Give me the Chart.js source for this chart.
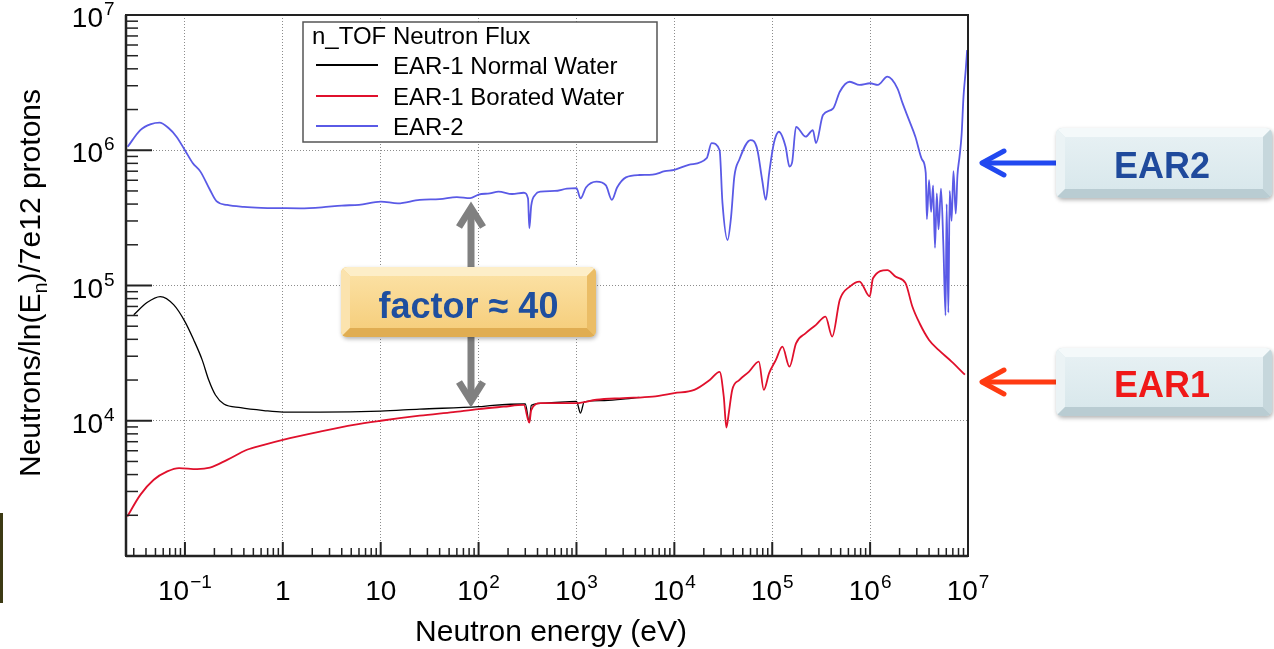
<!DOCTYPE html>
<html>
<head>
<meta charset="utf-8">
<title>n_TOF Neutron Flux</title>
<script src="https://cdn.jsdelivr.net/npm/chart.js@4.4.1/dist/chart.umd.min.js"></script>
<style>
  html, body { margin: 0; padding: 0; background: #fff; }
  #wrap { position: relative; width: 1274px; height: 649px; }
</style>
</head>
<body>
<div id="wrap"><canvas id="flux" width="1274" height="649"></canvas></div>
<script>
// Energies in eV, flux in neutrons / ln(E_n) / 7e12 protons
const ear1WaterE = [0.03, 0.041, 0.056, 0.077, 0.1, 0.123, 0.15, 0.175, 0.205, 0.25, 0.37, 0.64, 1, 2.4, 10, 25, 100, 140, 300, 330, 345, 480, 1000, 1100, 1200, 1800, 2800, 4400];
const ear1WaterFlux = [6.07e4, 7.48e4, 8.28e4, 7.19e4, 5.41e4, 3.96e4, 2.82e4, 2.0e4, 1.55e4, 1.33e4, 1.25e4, 1.19e4, 1.16e4, 1.16e4, 1.18e4, 1.22e4, 1.27e4, 1.3e4, 1.33e4, 9.7e3, 1.3e4, 1.35e4, 1.39e4, 1.14e4, 1.38e4, 1.41e4, 1.44e4, 1.49e4];

const ear1BoratedE = [0.0258, 0.035, 0.048, 0.066, 0.087, 0.133, 0.18, 0.27, 0.43, 0.64, 1, 2.4, 5.3, 10, 25, 55, 100, 180, 290, 330, 345, 430, 1000, 1600, 3000, 6000, 1e4, 1.6e4, 2.3e4, 2.9e4, 3.2e4, 3.4e4, 3.6e4, 3.9e4, 4.6e4, 5.8e4, 7.3e4, 8.2e4, 9.3e4, 1.09e5, 1.27e5, 1.5e5, 1.75e5, 2.2e5, 2.8e5, 3.5e5, 4.1e5, 4.9e5, 6.2e5, 7.8e5, 9.9e5, 1.07e6, 1.5e6, 1.83e6, 2.3e6, 2.7e6, 3.2e6, 4.0e6, 5.0e6, 6.8e6, 9.3e6];
const ear1BoratedFlux = [1.96e3, 2.83e3, 3.66e3, 4.22e3, 4.47e3, 4.39e3, 4.5e3, 5.14e3, 6.1e3, 6.64e3, 7.23e3, 8.32e3, 9.33e3, 1.0e4, 1.09e4, 1.16e4, 1.22e4, 1.27e4, 1.31e4, 9.7e3, 1.2e4, 1.35e4, 1.35e4, 1.43e4, 1.47e4, 1.51e4, 1.6e4, 1.69e4, 2.0e4, 2.3e4, 1.5e4, 8.9e3, 1.14e4, 1.69e4, 2.0e4, 2.31e4, 2.74e4, 1.69e4, 2.25e4, 2.82e4, 3.53e4, 2.51e4, 3.74e4, 4.44e4, 5.12e4, 5.89e4, 4.19e4, 7.84e4, 9.82e4, 1.07e5, 8.3e4, 1.13e5, 1.3e5, 1.16e5, 1.04e5, 6.99e4, 5.26e4, 3.96e4, 3.34e4, 2.74e4, 2.19e4];

const ear2E = [0.026, 0.035, 0.045, 0.055, 0.068, 0.082, 0.1, 0.12, 0.144, 0.18, 0.21, 0.27, 0.4, 0.6, 1, 1.5, 2.5, 4, 6, 10, 15, 25, 40, 60, 82, 100, 130, 160, 220, 290, 320, 330, 345, 380, 430, 600, 800, 1000, 1100, 1250, 1600, 2000, 2300, 2600, 3200, 4400, 6000, 8000, 1e4, 1.4e4, 2.14e4, 2.4e4, 2.9e4, 3.1e4, 3.5e4, 3.8e4, 4.1e4, 4.6e4, 6e4, 7e4, 7.9e4, 8.6e4, 9.3e4, 1.04e5, 1.17e5, 1.37e5, 1.5e5, 1.6e5, 1.75e5, 2.2e5, 2.6e5, 2.8e5, 3.3e5, 4.2e5, 4.9e5, 6.2e5, 7.8e5, 1e6, 1.2e6, 1.5e6, 1.9e6, 2.15e6, 2.5e6, 2.9e6, 3.4e6, 3.7e6, 3.8e6, 4.0e6, 4.2e6, 4.4e6, 4.6e6, 4.8e6, 5.0e6, 5.3e6, 5.6e6, 5.9e6, 6.05e6, 6.3e6, 6.5e6, 6.8e6, 7.1e6, 7.5e6, 7.8e6, 8.2e6, 8.6e6, 9.0e6, 9.5e6, 9.8e6];
const ear2Flux = [1.06e6, 1.41e6, 1.56e6, 1.6e6, 1.46e6, 1.26e6, 1.0e6, 8.05e5, 6.95e5, 5.1e5, 4.2e5, 3.94e5, 3.81e5, 3.75e5, 3.73e5, 3.72e5, 3.78e5, 3.9e5, 3.95e5, 4.17e5, 4.05e5, 4.3e5, 4.35e5, 4.5e5, 4.42e5, 4.7e5, 4.8e5, 4.95e5, 4.75e5, 4.85e5, 4.4e5, 2.65e5, 3.9e5, 4.7e5, 4.95e5, 5.0e5, 5.2e5, 5.24e5, 4.4e5, 5.3e5, 5.86e5, 5.5e5, 4.3e5, 5.3e5, 6.3e5, 6.56e5, 6.6e5, 7.0e5, 7.15e5, 7.8e5, 8.73e5, 1.13e6, 1.0e6, 4.1e5, 2.17e5, 3.23e5, 6.38e5, 8.5e5, 1.19e6, 1.03e6, 6.0e5, 4.3e5, 6.76e5, 1.13e6, 1.37e6, 1.06e6, 7.57e5, 8.2e5, 1.49e6, 1.26e6, 1.41e6, 1.13e6, 1.82e6, 2.04e6, 2.71e6, 3.21e6, 3.04e6, 3.13e6, 3.04e6, 3.5e6, 2.87e6, 2.22e6, 1.67e6, 1.26e6, 8.5e5, 6.8e5, 3.1e5, 6.0e5, 3.5e5, 5.5e5, 1.9e5, 4.8e5, 2.6e5, 5.2e5, 2.0e5, 6.0e4, 4.0e5, 6.3e4, 5.0e5, 3.0e5, 7.0e5, 3.4e5, 6.5e5, 9.0e5, 1.3e6, 2.5e6, 4.0e6, 5.5e6];

// decade ticks: value, base text, exponent text
const xTickValues = [0.1, 1, 10, 100, 1e3, 1e4, 1e5, 1e6, 1e7];
const xTickLabels = [['10', '\u22121'], ['1', ''], ['10', ''], ['10', '2'], ['10', '3'], ['10', '4'], ['10', '5'], ['10', '6'], ['10', '7']];
const yTickValues = [1e4, 1e5, 1e6, 1e7];
const yTickLabels = [['10', '4'], ['10', '5'], ['10', '6'], ['10', '7']];

const seriesNames = ['EAR-1 Normal Water', 'EAR-1 Borated Water', 'EAR-2'];
const seriesColors = ['#000000', '#e0102c', '#5a5ae6'];

const FONT = '"Liberation Sans", Arial, Helvetica, sans-serif';

function toPoints(es, fs) {
    return es.map((e, i) => ({ x: e, y: fs[i] }));
}

function line(ctx, x1, y1, x2, y2) {
    ctx.beginPath();
    ctx.moveTo(x1, y1);
    ctx.lineTo(x2, y2);
    ctx.stroke();
}

// "10" with a raised exponent
function powLabel(ctx, base, exp, x, yb, align) {
    ctx.font = '28px ' + FONT;
    const wb = ctx.measureText(base).width;
    ctx.font = '19px ' + FONT;
    const we = exp ? ctx.measureText(exp).width + 1 : 0;
    let x0 = x;
    if (align === 'center') x0 = x - (wb + we) / 2;
    if (align === 'right') x0 = x - wb;
    ctx.textAlign = 'left';
    ctx.font = '28px ' + FONT;
    ctx.fillText(base, x0, yb);
    if (exp) {
        ctx.font = '19px ' + FONT;
        ctx.fillText(exp, x0 + wb + 1, yb - 12);
    }
}

function roundRect(ctx, x, y, w, h, r) {
    ctx.beginPath();
    ctx.moveTo(x + r, y);
    ctx.arcTo(x + w, y, x + w, y + h, r);
    ctx.arcTo(x + w, y + h, x, y + h, r);
    ctx.arcTo(x, y + h, x, y, r);
    ctx.arcTo(x, y, x + w, y, r);
    ctx.closePath();
}

function poly(ctx, pts, color) {
    ctx.beginPath();
    ctx.moveTo(pts[0][0], pts[0][1]);
    pts.slice(1).forEach(p => ctx.lineTo(p[0], p[1]));
    ctx.closePath();
    ctx.fillStyle = color;
    ctx.fill();
}

// bevelled callout box
function bevelBox(ctx, x, y, w, h, c) {
    const b = 9;
    ctx.save();
    ctx.shadowColor = 'rgba(0,0,0,0.3)';
    ctx.shadowBlur = 4;
    ctx.shadowOffsetX = 1;
    ctx.shadowOffsetY = 2;
    roundRect(ctx, x, y, w, h, 6);
    ctx.fillStyle = c.face;
    ctx.fill();
    ctx.restore();
    ctx.save();
    roundRect(ctx, x, y, w, h, 6);
    ctx.clip();
    poly(ctx, [[x, y], [x + w, y], [x + w - b, y + b], [x + b, y + b]], c.top);
    poly(ctx, [[x, y], [x + b, y + b], [x + b, y + h - b], [x, y + h]], c.left);
    poly(ctx, [[x + w, y], [x + w, y + h], [x + w - b, y + h - b], [x + w - b, y + b]], c.right);
    poly(ctx, [[x, y + h], [x + b, y + h - b], [x + w - b, y + h - b], [x + w, y + h]], c.bottom);
    const g = ctx.createLinearGradient(0, y + b, 0, y + h - b);
    g.addColorStop(0, c.faceTop);
    g.addColorStop(1, c.face);
    ctx.fillStyle = g;
    ctx.fillRect(x + b, y + b, w - 2 * b, h - 2 * b);
    ctx.restore();
}

const frameAndLabels = {
    id: 'frameAndLabels',
    afterDatasetsDraw(chart) {
        const { ctx, chartArea: a, scales: { x, y } } = chart;
        ctx.save();
        ctx.strokeStyle = '#222';

        // inward tick marks
        for (let d = 1e3; d <= 1e7; d *= 10) {
            for (let k = 1; k <= 9; k++) {
                const v = d * k;
                if (v > 1e7 * 1.0001) break;
                const py = y.getPixelForValue(v);
                ctx.lineWidth = k === 1 ? 2 : 1.5;
                line(ctx, a.left, py, a.left + (k === 1 ? 26 : 12), py);
            }
        }
        for (let d = 0.01; d <= 1e7; d *= 10) {
            for (let k = 1; k <= 9; k++) {
                const v = d * k;
                if (v < 0.025 || v > 1e7 * 1.0001) continue;
                const px = x.getPixelForValue(v);
                ctx.lineWidth = k === 1 ? 2 : 1.5;
                line(ctx, px, a.bottom, px, a.bottom - (k === 1 ? 14 : 8));
            }
        }

        // frame
        ctx.lineWidth = 2;
        ctx.strokeRect(a.left, a.top, a.right - a.left, a.bottom - a.top);
        ctx.lineWidth = 2.5;
        line(ctx, a.left, a.top, a.left, a.bottom);
        line(ctx, a.left, a.bottom, a.right, a.bottom);

        // tick labels
        ctx.fillStyle = '#000';
        ctx.textBaseline = 'alphabetic';
        yTickValues.forEach((v, i) => {
            const py = y.getPixelForValue(v);
            powLabel(ctx, yTickLabels[i][0], yTickLabels[i][1], 103, py + 12, 'right');
        });
        xTickValues.forEach((v, i) => {
            const px = x.getPixelForValue(v);
            powLabel(ctx, xTickLabels[i][0], xTickLabels[i][1], px, 600, 'center');
        });

        // axis titles
        ctx.font = '30px ' + FONT;
        ctx.textAlign = 'center';
        ctx.fillText('Neutron energy (eV)', 551, 641);

        ctx.save();
        ctx.translate(40, 283);
        ctx.rotate(-Math.PI / 2);
        const p1 = 'Neutrons/ln(E', p2 = 'n', p3 = ')/7e12 protons';
        ctx.font = '30px ' + FONT;
        const w1 = ctx.measureText(p1).width, w3 = ctx.measureText(p3).width;
        ctx.font = '20px ' + FONT;
        const w2 = ctx.measureText(p2).width;
        let tx = -(w1 + w2 + w3) / 2;
        ctx.textAlign = 'left';
        ctx.font = '30px ' + FONT;
        ctx.fillText(p1, tx, 0);
        tx += w1;
        ctx.font = '20px ' + FONT;
        ctx.fillText(p2, tx, 7);
        tx += w2;
        ctx.font = '30px ' + FONT;
        ctx.fillText(p3, tx, 0);
        ctx.restore();

        // legend box
        ctx.fillStyle = '#fff';
        ctx.fillRect(303, 22, 354, 120);
        ctx.strokeStyle = '#555';
        ctx.lineWidth = 1.5;
        ctx.strokeRect(303, 22, 354, 120);
        ctx.fillStyle = '#000';
        ctx.font = '24px ' + FONT;
        ctx.textAlign = 'left';
        ctx.fillText('n_TOF Neutron Flux', 312, 44);
        const rows = [65, 96, 126];
        seriesNames.forEach((name, i) => {
            ctx.strokeStyle = seriesColors[i];
            ctx.lineWidth = 2;
            line(ctx, 316, rows[i], 378, rows[i]);
            ctx.fillStyle = '#000';
            ctx.fillText(name, 393, rows[i] + 9);
        });
        ctx.restore();
    },
    afterDraw(chart) {
        const { ctx } = chart;
        ctx.save();

        // double arrow between EAR-2 and EAR-1
        ctx.strokeStyle = '#808080';
        ctx.lineWidth = 7;
        ctx.lineCap = 'butt';
        line(ctx, 471, 210, 471, 398);
        ctx.lineJoin = 'miter';
        ctx.beginPath();
        ctx.moveTo(459, 227); ctx.lineTo(471, 208); ctx.lineTo(483, 227);
        ctx.stroke();
        ctx.beginPath();
        ctx.moveTo(459, 382); ctx.lineTo(471, 401); ctx.lineTo(483, 382);
        ctx.stroke();

        // side arrows
        ctx.lineCap = 'round';
        ctx.lineJoin = 'round';
        ctx.lineWidth = 5;
        [[163, '#2148f0'], [382, '#ff3b12']].forEach(([ay, col]) => {
            ctx.strokeStyle = col;
            line(ctx, 983, ay, 1060, ay);
            ctx.beginPath();
            ctx.moveTo(1004, ay - 12); ctx.lineTo(982, ay); ctx.lineTo(1004, ay + 12);
            ctx.stroke();
        });

        const gold = { face: '#f6cf7e', faceTop: '#fbe0a2', top: '#fdeec8', left: '#fbe3ae', right: '#ebbd66', bottom: '#e0ad52' };
        const steel = { face: '#d9e8ec', faceTop: '#e6f0f3', top: '#f4f9fa', left: '#ebf3f5', right: '#c6d7dc', bottom: '#b9ccd2' };
        bevelBox(ctx, 341, 267, 255, 70, gold);
        bevelBox(ctx, 1056, 128, 216, 70, steel);
        bevelBox(ctx, 1056, 348, 216, 68, steel);

        ctx.font = 'bold 36px ' + FONT;
        ctx.textAlign = 'center';
        ctx.fillStyle = '#1f4f9f';
        ctx.fillText('factor \u2248 40', 468.5, 318);
        ctx.fillStyle = '#1f4a9c';
        ctx.fillText('EAR2', 1162, 178);
        ctx.fillStyle = '#f01818';
        ctx.fillText('EAR1', 1162, 397);

        // edge of a neighbouring slide shape
        ctx.fillStyle = '#3c3a14';
        ctx.fillRect(0, 513, 3, 90);
        ctx.restore();
    }
};

const gridColor = (lo, hi) => c => (c.tick && c.tick.value > lo * 1.001 && c.tick.value < hi * 0.999) ? '#8c8c8c' : 'rgba(0,0,0,0)';

new Chart(document.getElementById('flux'), {
    type: 'scatter',
    data: {
        datasets: [
            {
                label: seriesNames[2],
                data: toPoints(ear2E, ear2Flux),
                borderColor: seriesColors[2],
                borderWidth: 1.8,
                order: 1
            },
            {
                label: seriesNames[1],
                data: toPoints(ear1BoratedE, ear1BoratedFlux),
                borderColor: seriesColors[1],
                borderWidth: 1.8,
                order: 2
            },
            {
                label: seriesNames[0],
                data: toPoints(ear1WaterE, ear1WaterFlux),
                borderColor: seriesColors[0],
                borderWidth: 1.3,
                order: 3
            }
        ]
    },
    options: {
        responsive: false,
        animation: false,
        devicePixelRatio: 1,
        showLine: true,
        elements: {
            point: { radius: 0 },
            line: { cubicInterpolationMode: 'monotone', fill: false }
        },
        layout: { padding: { left: 126, right: 306, top: 15, bottom: 93 } },
        plugins: { legend: { display: false }, tooltip: { enabled: false } },
        scales: {
            x: {
                type: 'logarithmic',
                min: 0.025,
                max: 1e7,
                ticks: { display: false },
                grid: { color: gridColor(0.025, 1e7), lineWidth: 1, drawTicks: false },
                border: { display: false, dash: [1, 2] },
                afterBuildTicks: s => { s.ticks = xTickValues.map(v => ({ value: v })); },
                afterFit: s => { s.height = 0; }
            },
            y: {
                type: 'logarithmic',
                min: 1e3,
                max: 1e7,
                ticks: { display: false },
                grid: { color: gridColor(1e3, 1e7), lineWidth: 1, drawTicks: false },
                border: { display: false, dash: [1, 2] },
                afterBuildTicks: s => { s.ticks = yTickValues.map(v => ({ value: v })); },
                afterFit: s => { s.width = 0; }
            }
        }
    },
    plugins: [frameAndLabels]
});
</script>
</body>
</html>
